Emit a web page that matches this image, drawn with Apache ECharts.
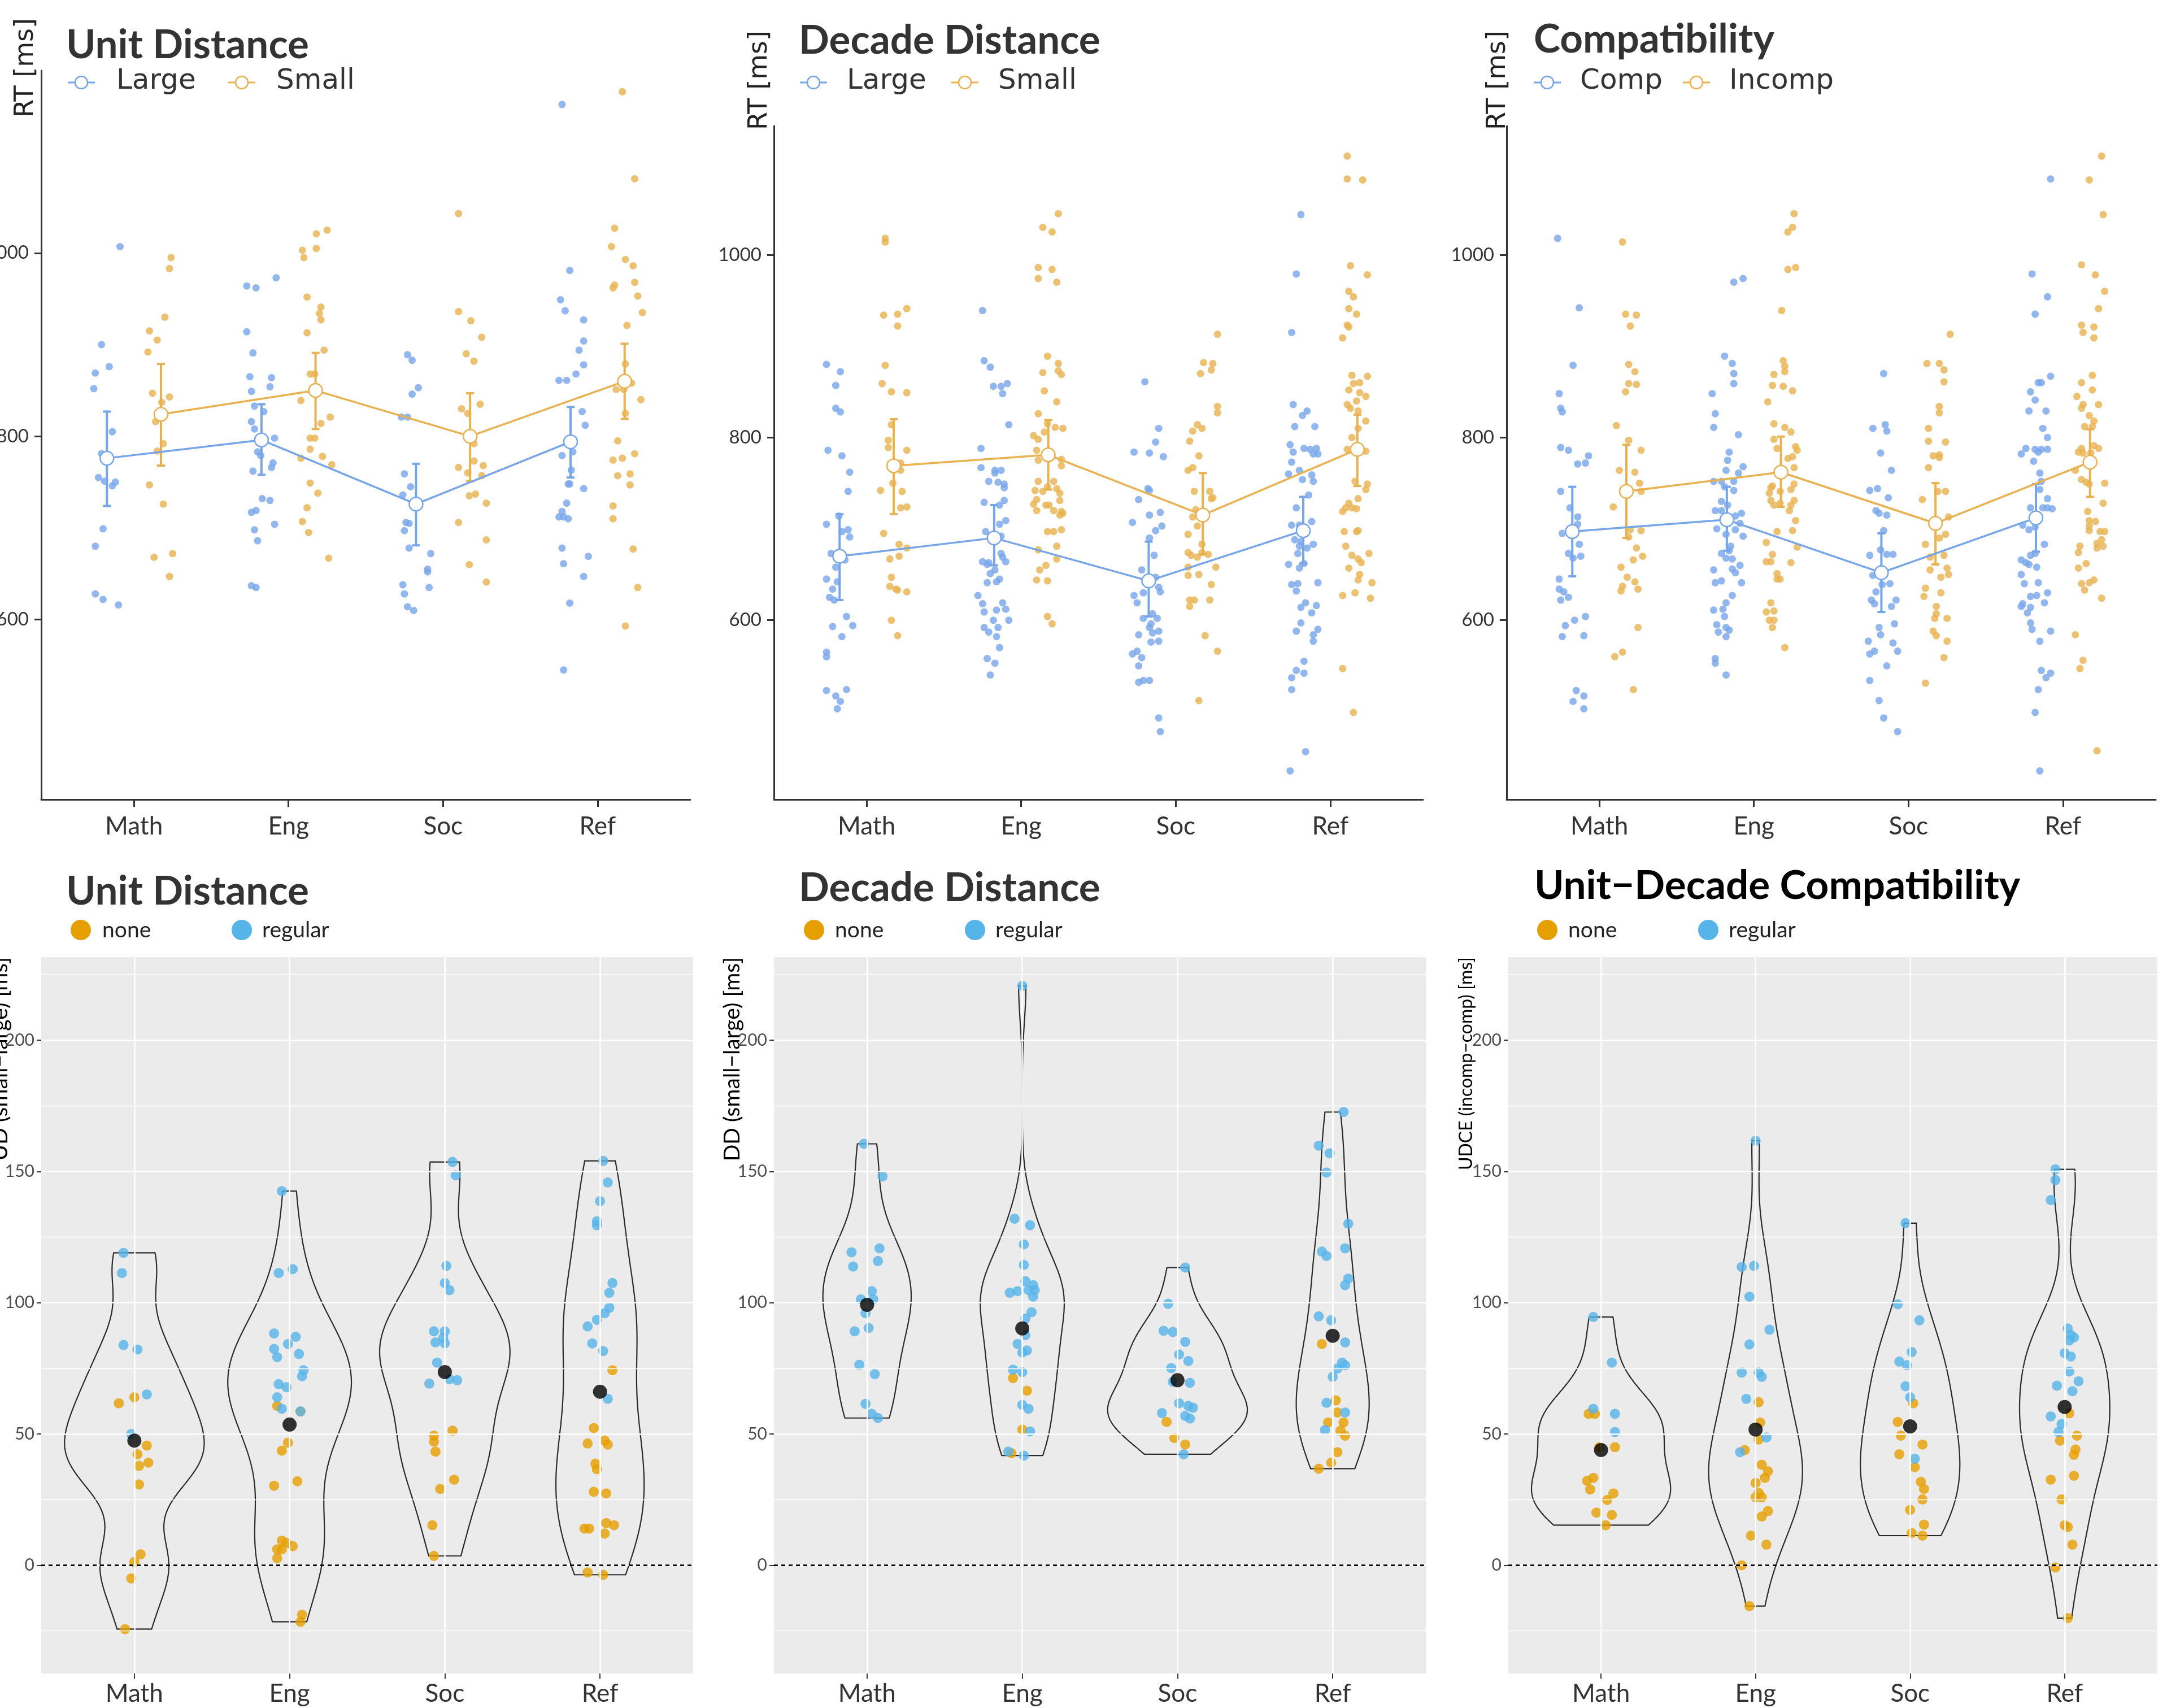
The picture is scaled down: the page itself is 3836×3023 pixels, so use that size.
<!DOCTYPE html>
<html><head><meta charset="utf-8">
<script src="https://cdn.jsdelivr.net/npm/echarts@6/dist/echarts.min.js"></script>
<style>html,body{margin:0;padding:0;background:#fff}#c{width:3836px;height:3023px}</style>
</head><body><div id="c"></div>
<script>
const categories = ['Math','Eng','Soc','Ref'];

// ---------- Top row: individual RTs, [jitter offset in category units, RT ms] ----------
// Unit Distance
const UD_large_Math = [[-0.09,1007],[-0.21,900],[-0.16,876],[-0.25,869],[-0.26,852],[-0.14,805],[-0.21,781],[-0.23,755],[-0.19,751],[-0.12,750],[-0.14,746],[-0.20,699],[-0.25,680],[-0.25,628],[-0.20,622],[-0.10,616]];
const UD_large_Eng = [[-0.08,973],[-0.27,964],[-0.21,962],[-0.27,914],[-0.23,891],[-0.25,865],[-0.11,864],[-0.12,854],[-0.24,849],[-0.22,833],[-0.16,827],[-0.24,816],[-0.22,808],[-0.09,798],[-0.20,783],[-0.18,779],[-0.10,771],[-0.11,766],[-0.23,762],[-0.17,732],[-0.12,730],[-0.24,717],[-0.21,719],[-0.09,704],[-0.22,698],[-0.20,686],[-0.24,637],[-0.21,635]];
const UD_large_Soc = [[-0.23,889],[-0.20,883],[-0.16,853],[-0.20,846],[-0.27,821],[-0.23,821],[-0.25,759],[-0.21,745],[-0.26,736],[-0.24,706],[-0.22,705],[-0.25,697],[-0.22,678],[-0.08,672],[-0.10,655],[-0.10,652],[-0.26,638],[-0.09,635],[-0.25,628],[-0.23,614],[-0.19,610]];
const UD_large_Ref = [[-0.23,1162],[-0.18,981],[-0.24,949],[-0.21,937],[-0.09,927],[-0.09,904],[-0.12,894],[-0.09,878],[-0.14,868],[-0.25,861],[-0.20,861],[-0.10,827],[-0.08,812],[-0.23,779],[-0.16,783],[-0.17,763],[-0.19,748],[-0.18,748],[-0.09,743],[-0.20,727],[-0.23,718],[-0.25,712],[-0.22,712],[-0.19,710],[-0.23,678],[-0.22,661],[-0.06,669],[-0.09,647],[-0.18,618],[-0.22,545]];
const UD_small_Math = [[0.24,995],[0.23,983],[0.20,930],[0.10,915],[0.15,905],[0.09,892],[0.12,847],[0.18,837],[0.23,843],[0.14,816],[0.15,784],[0.19,792],[0.10,747],[0.19,726],[0.13,668],[0.25,672],[0.23,647]];
const UD_small_Eng = [[0.25,1025],[0.18,1021],[0.18,1005],[0.09,1003],[0.10,995],[0.12,952],[0.21,941],[0.20,934],[0.21,927],[0.12,913],[0.23,894],[0.14,868],[0.17,868],[0.08,839],[0.27,821],[0.21,814],[0.14,798],[0.17,798],[0.14,786],[0.22,778],[0.08,776],[0.28,769],[0.14,749],[0.19,738],[0.12,722],[0.09,707],[0.13,695],[0.26,667]];
const UD_small_Soc = [[0.10,1043],[0.10,936],[0.18,926],[0.25,908],[0.15,890],[0.20,882],[0.24,835],[0.12,830],[0.16,825],[0.20,792],[0.10,766],[0.20,773],[0.26,768],[0.16,760],[0.25,757],[0.17,735],[0.21,737],[0.28,727],[0.10,706],[0.28,687],[0.17,660],[0.28,641]];
const UD_small_Ref = [[0.16,1176],[0.24,1081],[0.11,1027],[0.09,1007],[0.18,993],[0.23,986],[0.11,965],[0.10,962],[0.24,968],[0.26,953],[0.29,935],[0.19,921],[0.18,879],[0.12,851],[0.17,851],[0.22,858],[0.28,840],[0.18,825],[0.13,795],[0.24,781],[0.16,776],[0.10,774],[0.21,759],[0.13,757],[0.21,747],[0.10,724],[0.10,710],[0.23,677],[0.26,635],[0.18,593]];
const UD_large_mean = [776,796,726,794], UD_large_lo = [724,758,681,755], UD_large_hi = [827,835,770,832];
const UD_small_mean = [824,850,800,860], UD_small_lo = [768,808,751,819], UD_small_hi = [879,891,847,901];

// Decade Distance
const DD_large_Math = [[-0.26,880],[-0.17,872],[-0.20,857],[-0.20,832],[-0.17,828],[-0.25,786],[-0.16,780],[-0.11,762],[-0.12,741],[-0.26,705],[-0.18,714],[-0.16,697],[-0.12,699],[-0.11,691],[-0.23,673],[-0.14,666],[-0.20,658],[-0.26,645],[-0.19,642],[-0.22,634],[-0.24,625],[-0.21,622],[-0.13,604],[-0.09,594],[-0.22,593],[-0.16,582],[-0.26,565],[-0.26,560],[-0.26,523],[-0.20,517],[-0.17,511],[-0.13,524],[-0.19,503]];
const DD_large_Eng = [[-0.25,939],[-0.24,884],[-0.20,877],[-0.18,856],[-0.13,856],[-0.09,859],[-0.12,848],[-0.08,814],[-0.26,788],[-0.26,767],[-0.17,764],[-0.13,764],[-0.17,761],[-0.21,752],[-0.15,751],[-0.11,749],[-0.11,745],[-0.24,729],[-0.11,731],[-0.14,726],[-0.10,709],[-0.14,705],[-0.23,697],[-0.13,692],[-0.13,673],[-0.12,669],[-0.10,664],[-0.25,664],[-0.22,661],[-0.21,663],[-0.20,651],[-0.17,655],[-0.22,641],[-0.14,645],[-0.16,642],[-0.28,627],[-0.25,618],[-0.24,609],[-0.16,611],[-0.12,619],[-0.10,612],[-0.08,600],[-0.18,600],[-0.24,592],[-0.21,587],[-0.15,592],[-0.16,582],[-0.14,570],[-0.22,558],[-0.17,553],[-0.20,540]];
const DD_large_Soc = [[-0.20,861],[-0.11,810],[-0.13,795],[-0.27,784],[-0.17,783],[-0.08,779],[-0.18,744],[-0.17,742],[-0.24,732],[-0.28,707],[-0.17,715],[-0.10,718],[-0.09,703],[-0.13,698],[-0.17,690],[-0.14,671],[-0.22,655],[-0.13,647],[-0.17,643],[-0.27,627],[-0.21,630],[-0.25,619],[-0.11,636],[-0.10,631],[-0.21,602],[-0.15,607],[-0.12,602],[-0.17,592],[-0.16,596],[-0.11,588],[-0.24,584],[-0.15,586],[-0.16,576],[-0.11,577],[-0.28,563],[-0.25,566],[-0.22,559],[-0.24,550],[-0.24,532],[-0.21,534],[-0.17,534],[-0.11,493],[-0.10,478]];
const DD_large_Ref = [[-0.19,1044],[-0.22,979],[-0.25,915],[-0.24,836],[-0.18,824],[-0.15,829],[-0.10,812],[-0.23,812],[-0.26,792],[-0.24,784],[-0.17,788],[-0.13,787],[-0.09,788],[-0.11,782],[-0.08,782],[-0.25,773],[-0.27,760],[-0.20,764],[-0.12,759],[-0.18,754],[-0.11,752],[-0.14,737],[-0.22,723],[-0.25,704],[-0.20,704],[-0.12,708],[-0.23,688],[-0.19,686],[-0.20,681],[-0.15,679],[-0.11,683],[-0.21,673],[-0.27,661],[-0.20,657],[-0.17,662],[-0.25,639],[-0.21,640],[-0.22,632],[-0.08,641],[-0.19,614],[-0.16,619],[-0.09,616],[-0.12,608],[-0.19,597],[-0.22,588],[-0.08,590],[-0.11,584],[-0.11,577],[-0.17,555],[-0.22,545],[-0.17,542],[-0.25,537],[-0.25,524],[-0.16,456],[-0.26,435]];
const DD_small_Math = [[0.12,1018],[0.12,1014],[0.11,934],[0.20,935],[0.26,941],[0.20,922],[0.12,879],[0.10,859],[0.16,850],[0.26,849],[0.16,814],[0.14,797],[0.14,789],[0.26,786],[0.22,772],[0.22,764],[0.17,750],[0.09,742],[0.23,741],[0.22,723],[0.26,724],[0.11,695],[0.21,683],[0.26,679],[0.15,667],[0.21,670],[0.16,647],[0.15,637],[0.19,634],[0.20,633],[0.26,631],[0.16,600],[0.20,583]];
const DD_small_Eng = [[0.24,1045],[0.14,1030],[0.20,1025],[0.11,986],[0.20,984],[0.11,974],[0.23,970],[0.17,889],[0.24,881],[0.14,871],[0.24,873],[0.26,869],[0.15,851],[0.23,839],[0.11,826],[0.17,815],[0.15,806],[0.22,811],[0.27,810],[0.08,802],[0.11,798],[0.10,786],[0.11,775],[0.26,776],[0.26,769],[0.11,752],[0.21,752],[0.09,742],[0.14,741],[0.17,746],[0.23,744],[0.25,739],[0.08,727],[0.10,732],[0.16,726],[0.18,726],[0.10,720],[0.21,720],[0.25,731],[0.26,719],[0.25,715],[0.27,717],[0.17,697],[0.21,697],[0.26,699],[0.23,681],[0.11,677],[0.23,667],[0.16,660],[0.12,655],[0.10,644],[0.17,643],[0.17,604],[0.20,596]];
const DD_small_Soc = [[0.27,913],[0.18,882],[0.24,881],[0.16,870],[0.23,874],[0.27,834],[0.27,827],[0.14,814],[0.17,810],[0.11,807],[0.09,796],[0.15,780],[0.08,764],[0.11,767],[0.12,741],[0.22,741],[0.24,734],[0.23,733],[0.13,721],[0.11,713],[0.14,703],[0.08,694],[0.17,683],[0.08,674],[0.10,671],[0.14,669],[0.17,674],[0.21,672],[0.08,658],[0.26,658],[0.15,650],[0.08,649],[0.23,639],[0.09,622],[0.12,622],[0.22,622],[0.09,615],[0.19,583],[0.27,566],[0.15,512]];
const DD_small_Ref = [[0.11,1108],[0.11,1083],[0.21,1082],[0.13,988],[0.24,978],[0.12,960],[0.15,954],[0.12,941],[0.17,935],[0.11,923],[0.12,921],[0.08,909],[0.14,868],[0.24,867],[0.15,859],[0.19,860],[0.12,852],[0.19,849],[0.23,845],[0.17,840],[0.11,836],[0.13,832],[0.18,829],[0.23,818],[0.18,810],[0.14,800],[0.11,787],[0.23,785],[0.16,752],[0.24,749],[0.23,743],[0.18,733],[0.12,728],[0.08,719],[0.10,723],[0.14,723],[0.17,722],[0.09,697],[0.17,697],[0.18,698],[0.10,681],[0.14,671],[0.18,667],[0.20,663],[0.25,673],[0.12,657],[0.19,650],[0.18,644],[0.27,641],[0.08,627],[0.16,630],[0.26,624],[0.08,547],[0.15,499]];
const DD_large_mean = [670,690,643,698], DD_large_lo = [622,660,604,662], DD_large_hi = [716,726,686,735];
const DD_small_mean = [769,781,715,787], DD_small_lo = [716,743,672,747], DD_small_hi = [820,819,761,825];

// Compatibility
const CP_comp_Math = [[-0.27,1018],[-0.13,942],[-0.17,879],[-0.26,848],[-0.25,832],[-0.24,828],[-0.25,789],[-0.20,786],[-0.14,771],[-0.09,772],[-0.07,780],[-0.25,741],[-0.19,723],[-0.14,713],[-0.14,705],[-0.24,695],[-0.13,683],[-0.20,673],[-0.17,668],[-0.12,670],[-0.26,645],[-0.26,634],[-0.23,631],[-0.25,622],[-0.20,625],[-0.16,600],[-0.09,604],[-0.22,594],[-0.24,582],[-0.10,583],[-0.15,523],[-0.10,517],[-0.17,511],[-0.10,503]];
const CP_comp_Eng = [[-0.13,970],[-0.07,974],[-0.19,889],[-0.14,881],[-0.13,870],[-0.13,859],[-0.27,848],[-0.25,826],[-0.26,811],[-0.10,803],[-0.16,784],[-0.17,775],[-0.18,764],[-0.07,768],[-0.10,761],[-0.26,752],[-0.21,752],[-0.13,752],[-0.19,746],[-0.13,742],[-0.21,730],[-0.17,726],[-0.25,720],[-0.21,720],[-0.12,714],[-0.08,717],[-0.09,706],[-0.24,700],[-0.12,699],[-0.18,694],[-0.07,692],[-0.15,681],[-0.16,676],[-0.21,673],[-0.18,668],[-0.14,667],[-0.09,660],[-0.26,655],[-0.14,656],[-0.12,652],[-0.25,641],[-0.21,643],[-0.08,641],[-0.14,627],[-0.18,619],[-0.26,611],[-0.20,612],[-0.19,604],[-0.24,595],[-0.23,587],[-0.18,592],[-0.16,589],[-0.18,582],[-0.25,558],[-0.25,553],[-0.18,540]];
const CP_comp_Soc = [[-0.16,870],[-0.23,810],[-0.15,814],[-0.14,807],[-0.18,783],[-0.11,764],[-0.25,742],[-0.20,744],[-0.13,734],[-0.21,720],[-0.19,717],[-0.14,715],[-0.16,698],[-0.25,671],[-0.18,677],[-0.14,672],[-0.10,672],[-0.17,652],[-0.23,649],[-0.17,639],[-0.12,640],[-0.21,631],[-0.24,622],[-0.22,618],[-0.08,622],[-0.11,615],[-0.09,596],[-0.19,592],[-0.18,584],[-0.26,577],[-0.10,575],[-0.25,563],[-0.22,566],[-0.07,566],[-0.14,550],[-0.25,534],[-0.19,512],[-0.16,493],[-0.07,478]];
const CP_comp_Ref = [[-0.08,1083],[-0.20,979],[-0.10,954],[-0.18,935],[-0.08,867],[-0.16,860],[-0.14,860],[-0.21,850],[-0.18,841],[-0.22,829],[-0.11,829],[-0.13,810],[-0.10,800],[-0.24,788],[-0.27,782],[-0.18,787],[-0.16,784],[-0.14,787],[-0.10,787],[-0.19,774],[-0.15,761],[-0.14,752],[-0.15,743],[-0.10,733],[-0.21,723],[-0.13,723],[-0.10,723],[-0.07,722],[-0.26,704],[-0.22,699],[-0.18,702],[-0.12,683],[-0.21,671],[-0.18,673],[-0.27,666],[-0.24,663],[-0.22,661],[-0.17,658],[-0.27,650],[-0.25,640],[-0.16,641],[-0.10,630],[-0.21,626],[-0.17,627],[-0.12,619],[-0.26,618],[-0.27,615],[-0.21,614],[-0.23,608],[-0.21,597],[-0.20,590],[-0.08,588],[-0.15,577],[-0.14,545],[-0.11,537],[-0.08,542],[-0.16,524],[-0.18,499],[-0.15,435]];
const CP_incomp_Math = [[0.15,1014],[0.17,935],[0.24,934],[0.20,922],[0.19,880],[0.23,872],[0.19,859],[0.24,858],[0.17,850],[0.11,813],[0.19,797],[0.27,786],[0.13,764],[0.23,762],[0.26,750],[0.27,741],[0.09,724],[0.20,699],[0.27,698],[0.19,691],[0.24,679],[0.28,670],[0.22,666],[0.14,658],[0.18,647],[0.23,642],[0.15,637],[0.14,632],[0.25,634],[0.25,592],[0.10,560],[0.15,565],[0.22,524]];
const CP_incomp_Eng = [[0.26,1045],[0.25,1030],[0.22,1025],[0.22,984],[0.27,986],[0.18,939],[0.19,884],[0.20,878],[0.20,872],[0.13,869],[0.12,857],[0.19,856],[0.25,851],[0.09,839],[0.13,815],[0.20,811],[0.24,806],[0.13,798],[0.27,790],[0.15,788],[0.28,786],[0.22,777],[0.25,779],[0.26,767],[0.26,749],[0.11,745],[0.12,747],[0.24,743],[0.10,739],[0.17,741],[0.11,731],[0.13,726],[0.17,728],[0.26,731],[0.24,726],[0.23,720],[0.27,709],[0.15,697],[0.25,698],[0.08,685],[0.28,680],[0.12,672],[0.08,664],[0.11,664],[0.24,663],[0.15,651],[0.15,645],[0.17,645],[0.11,619],[0.08,609],[0.13,610],[0.10,600],[0.13,600],[0.12,592],[0.20,570]];
const CP_incomp_Soc = [[0.27,913],[0.12,881],[0.20,881],[0.23,874],[0.23,861],[0.20,834],[0.20,827],[0.13,810],[0.13,796],[0.24,795],[0.16,780],[0.20,781],[0.20,778],[0.13,767],[0.09,732],[0.19,741],[0.24,741],[0.26,713],[0.11,683],[0.20,690],[0.24,694],[0.14,669],[0.23,671],[0.25,657],[0.26,650],[0.14,655],[0.21,647],[0.11,635],[0.10,626],[0.21,630],[0.18,615],[0.18,607],[0.17,602],[0.25,602],[0.16,588],[0.18,583],[0.25,577],[0.23,559],[0.11,531]];
const CP_incomp_Ref = [[0.25,1108],[0.17,1082],[0.26,1044],[0.12,989],[0.21,978],[0.27,960],[0.23,941],[0.12,923],[0.20,921],[0.13,915],[0.20,909],[0.19,868],[0.12,860],[0.19,852],[0.09,845],[0.13,836],[0.12,832],[0.23,836],[0.17,824],[0.20,818],[0.14,812],[0.19,812],[0.12,788],[0.20,791],[0.10,784],[0.13,783],[0.18,783],[0.23,788],[0.08,764],[0.12,754],[0.15,751],[0.17,749],[0.27,750],[0.26,728],[0.16,719],[0.17,709],[0.21,708],[0.17,703],[0.17,698],[0.24,697],[0.27,697],[0.25,688],[0.22,684],[0.22,679],[0.26,681],[0.11,681],[0.10,674],[0.15,662],[0.10,657],[0.12,640],[0.17,641],[0.20,644],[0.14,633],[0.25,624],[0.08,584],[0.13,556],[0.11,547],[0.22,457]];
const CP_comp_mean = [697,710,652,712], CP_comp_lo = [648,676,609,675], CP_comp_hi = [746,746,695,749];
const CP_incomp_mean = [741,762,706,773], CP_incomp_lo = [690,724,661,735], CP_incomp_hi = [792,801,750,809];

// ---------- Bottom row: effects per participant, [jitter offset, effect ms] ----------
const UD_none_Math = [[-0.10,61.7],[0,64.0],[0.08,45.6],[0.02,42.3],[0.03,37.9],[0.09,39.1],[0.03,30.8],[0.04,4.2],[0,1.3],[-0.02,-5.0],[-0.06,-24.3]];
const UD_reg_Math = [[-0.07,119.0],[-0.08,111.3],[-0.07,83.9],[0.02,82.2],[0.08,65.1],[-0.02,50.0]];
const UD_none_Eng = [[-0.08,60.7],[0.07,58.6],[-0.01,46.7],[-0.05,43.7],[-0.10,30.3],[0.05,32.0],[-0.05,9.4],[-0.02,8.6],[0.02,7.3],[-0.08,6.1],[-0.05,6.1],[-0.08,2.7],[0.08,-18.8],[0.07,-21.5]];
const UD_reg_Eng = [[-0.05,142.5],[-0.07,111.3],[0.02,112.8],[-0.10,88.3],[0.04,87.0],[-0.10,82.4],[-0.01,84.3],[-0.08,79.3],[0.06,80.5],[0.09,74.3],[0.08,72.0],[-0.07,69.0],[-0.02,67.8],[-0.08,64.0],[-0.05,59.6],[0.07,58.6]];
const UD_none_Soc = [[-0.07,49.4],[-0.07,47.1],[-0.06,43.3],[0.05,51.3],[0.06,32.6],[-0.03,29.1],[-0.08,15.3],[-0.07,3.6]];
const UD_reg_Soc = [[0.05,153.6],[0.07,148.5],[0.01,114.0],[0,107.5],[0.03,104.8],[-0.07,89.1],[0,89.1],[-0.06,84.9],[0,84.5],[-0.01,86.6],[-0.05,77.2],[-0.10,69.2],[0.03,70.9],[0.08,70.5]];
const UD_none_Ref = [[0.08,74.3],[-0.04,52.3],[-0.08,46.4],[0.03,47.5],[0.05,46.0],[-0.03,38.7],[-0.02,36.6],[-0.04,28.0],[0.04,27.4],[0.04,16.1],[0.09,15.3],[-0.10,14.0],[-0.07,14.0],[0.03,12.1],[-0.08,-2.7],[0.02,-3.6]];
const UD_reg_Ref = [[0.02,154.0],[0.05,145.8],[0,138.7],[-0.02,131.0],[-0.02,129.5],[0.08,107.5],[0.06,103.8],[0.06,98.1],[0.03,96.0],[-0.02,93.5],[-0.08,91.0],[-0.05,84.5],[0.02,81.6],[0.05,63.4]];
const UD_mean = [47.5,53.6,73.6,66.1];

const DD_none_Math = [];
const DD_reg_Math = [[-0.02,160.5],[0.10,148.1],[-0.10,119.2],[0.08,120.7],[-0.09,113.8],[0.07,115.9],[0.03,104.4],[-0.04,101.3],[0.04,101.3],[-0.01,96.0],[-0.08,89.1],[0.01,90.4],[-0.05,76.4],[0.05,72.8],[-0.01,61.5],[0.03,57.7],[0.07,56.1]];
const DD_none_Eng = [[-0.06,71.3],[0.03,66.5],[0,51.7],[-0.07,42.7]];
const DD_reg_Eng = [[0,220.7],[-0.05,132.0],[0.05,129.5],[0.01,122.2],[0.01,114.4],[-0.08,103.8],[-0.03,104.4],[0.02,108.2],[0.07,106.7],[0.08,104.8],[0.04,104.8],[0.07,102.3],[0.06,96.4],[0.02,93.9],[0.02,87.7],[-0.03,84.3],[0,81.0],[0.03,81.8],[-0.06,74.5],[0,73.6],[0,61.1],[0.04,59.6],[0.05,51.0],[-0.09,43.3],[0.01,41.8]];
const DD_none_Soc = [[-0.07,54.6],[-0.02,48.5],[0.05,46.0]];
const DD_reg_Soc = [[0.05,113.4],[-0.06,99.6],[-0.09,89.3],[-0.03,88.9],[0.05,85.1],[0.01,80.3],[0.07,77.8],[-0.04,75.1],[-0.03,69.9],[0.08,69.5],[-0.10,58.0],[0.01,61.7],[0.07,60.7],[0.10,60.0],[0.05,56.9],[0.08,55.9],[0.04,42.3]];
const DD_none_Ref = [[-0.07,84.3],[0.02,62.8],[0.03,58.2],[-0.03,54.4],[0.07,54.4],[0.05,51.3],[0.08,49.4],[0.03,43.1],[-0.01,39.1],[-0.09,36.8]];
const DD_reg_Ref = [[0.07,172.6],[-0.09,159.8],[-0.02,156.9],[-0.04,149.6],[0.10,130.1],[-0.07,119.5],[-0.04,117.8],[0.08,120.7],[0.10,109.2],[0.08,106.7],[-0.09,94.8],[-0.01,93.3],[0.08,84.9],[0.06,77.2],[0.08,76.2],[0.03,74.9],[0,71.8],[-0.04,61.9],[0.08,58.2],[-0.05,51.5]];
const DD_mean = [99.2,90.2,70.5,87.4];

const UDCE_none_Math = [[-0.08,57.7],[-0.04,57.7],[-0.01,45.0],[0.09,45.0],[-0.09,32.2],[-0.05,33.3],[-0.07,28.9],[0.08,27.4],[0.04,24.9],[-0.03,20.1],[0.07,19.2],[0.03,15.3]];
const UDCE_reg_Math = [[-0.05,94.6],[0.07,77.2],[-0.05,59.6],[0.09,57.7],[0.09,50.8]];
const UDCE_none_Eng = [[0.02,62.1],[0.03,54.4],[0.02,47.9],[-0.07,43.9],[0.04,38.3],[0.08,35.8],[0.06,33.3],[0,31.4],[0.02,27.6],[0,25.9],[0.04,25.9],[0.08,20.7],[0.04,18.6],[-0.03,11.3],[0.07,7.9],[-0.09,0],[-0.04,-15.5]];
const UDCE_reg_Eng = [[0,161.7],[-0.09,113.6],[-0.01,114.0],[-0.04,102.3],[0.09,89.7],[-0.04,84.1],[-0.09,73.4],[0.02,73.4],[0.04,71.8],[-0.06,63.4],[0.07,48.7],[-0.10,43.1]];
const UDCE_none_Soc = [[0.02,61.7],[-0.08,54.6],[-0.06,49.4],[0.08,46.0],[-0.07,42.3],[0.03,37.4],[0.07,31.8],[0.09,29.1],[0.08,25.1],[0,21.1],[0.09,15.5],[0.01,12.3],[0.08,11.3]];
const UDCE_reg_Soc = [[-0.03,130.3],[-0.08,99.4],[0.06,93.3],[0.01,81.2],[-0.07,77.6],[-0.02,76.2],[-0.03,68.2],[0,64.0],[0.03,40.6]];
const UDCE_none_Ref = [[0.03,57.9],[-0.03,47.5],[0.08,49.4],[0.07,44.1],[0.06,42.1],[0.06,34.1],[-0.09,32.6],[-0.02,25.1],[0,15.3],[0.02,14.6],[0.05,7.9],[-0.06,-0.8],[0.02,-20.1]];
const UDCE_reg_Ref = [[-0.06,150.8],[-0.06,146.7],[-0.09,139.1],[0.02,90.2],[0.04,87.7],[0.06,86.8],[0.03,85.6],[0,80.8],[0.04,79.5],[0.03,73.8],[0.09,70.1],[-0.05,68.4],[0.05,66.3],[-0.09,56.7],[-0.02,53.8],[-0.04,50.8]];
const UDCE_mean = [43.9,51.7,52.9,60.3];

// tick values
const topTicks = [600,800,1000];
const bottomTicks = [0,50,100,150,200];
const bottomMinor = [-25,25,75,125,175,225];

// ---------- styling ----------
const BLUE = '#77A5EA', ORANGE = '#E9B14F';
const NONE_C = '#E69F00', REG_C = '#56B4E9';
const DODGE = 0.175;

const gbase = {outerBoundsMode:'none', containLabel:false};
const grids = [
  Object.assign({left:73, top:125, width:1149, height:1290}, gbase),
  Object.assign({left:1370, top:223, width:1149, height:1192}, gbase),
  Object.assign({left:2667, top:223, width:1149, height:1192}, gbase),
  Object.assign({left:73, top:1694, width:1154, height:1268, show:true, backgroundColor:'#EBEBEB', borderWidth:0}, gbase),
  Object.assign({left:1370, top:1694, width:1154, height:1268, show:true, backgroundColor:'#EBEBEB', borderWidth:0}, gbase),
  Object.assign({left:2670, top:1694, width:1149, height:1268, show:true, backgroundColor:'#EBEBEB', borderWidth:0}, gbase)
];

const xAxes = [], yAxes = [], series = [];
const catFmt = v => categories[Math.round(v)-1] || '';
const numFmt = v => String(v);

for (let g=0; g<6; g++){
  const top = g<3;
  xAxes.push({type:'value', gridIndex:g, min:0.4, max:4.6,
    axisLine:{show:top, onZero:false, lineStyle:{color:'#333', width:3}},
    axisTick:{show:true, customValues:[1,2,3,4], length: top?13:9, lineStyle:{color:'#333', width: top?3:2}},
    axisLabel:{customValues:[1,2,3,4], formatter:catFmt, fontSize:44, fontFamily:'Lato', color:'#333', margin: top?26:14},
    splitLine:{show:false}});
  if (top){
    yAxes.push({type:'value', gridIndex:g, min:403.7, max: g===0?1199:1141,
      axisLine:{show:true, onZero:false, lineStyle:{color:'#333', width:3}},
      axisTick:{show:true, customValues:topTicks, length:12, lineStyle:{color:'#333', width:3}},
      axisLabel:{customValues:topTicks, formatter:numFmt, fontSize:33, fontFamily:'Lato', color:'#333', margin:22},
      splitLine:{show:false}});
  } else {
    yAxes.push({type:'value', gridIndex:g, min:-41.2, max:231.6,
      axisLine:{show:false, onZero:false},
      axisTick:{show:true, customValues:bottomTicks, length:8, lineStyle:{color:'#333', width:2}},
      axisLabel:{customValues:bottomTicks, formatter:numFmt, fontSize:30, fontFamily:'Lato', color:'#4D4D4D', margin:12},
      splitLine:{show:false}});
  }
}

function pts(groups){
  const out = [];
  groups.forEach((grp, ci) => grp.forEach(p => out.push([ci+1+p[0], p[1]])));
  return out;
}

function errBarSeries(g, lo, hi, shift, color){
  return {type:'custom', xAxisIndex:g, yAxisIndex:g, z:4, silent:true,
    encode:{x:0, y:[1,2]},
    data: lo.map((v,i)=>[i+1+shift, v, hi[i]]),
    renderItem:(params, api)=>{
      const x = api.value(0);
      const a = api.coord([x, api.value(2)]), b = api.coord([x, api.value(1)]);
      const cap = 7;
      const st = {stroke:color, lineWidth:4};
      return {type:'group', children:[
        {type:'line', shape:{x1:a[0], y1:a[1], x2:b[0], y2:b[1]}, style:st},
        {type:'line', shape:{x1:a[0]-cap, y1:a[1], x2:a[0]+cap, y2:a[1]}, style:st},
        {type:'line', shape:{x1:b[0]-cap, y1:b[1], x2:b[0]+cap, y2:b[1]}, style:st}
      ]};
    }};
}

function addTop(g, A, B, mA, loA, hiA, mB, loB, hiB){
  series.push({type:'scatter', xAxisIndex:g, yAxisIndex:g, z:2, silent:true, symbolSize:13,
    itemStyle:{color:BLUE}, data:pts(A)});
  series.push({type:'scatter', xAxisIndex:g, yAxisIndex:g, z:2, silent:true, symbolSize:13,
    itemStyle:{color:ORANGE}, data:pts(B)});
  series.push(errBarSeries(g, loA, hiA, -DODGE, BLUE));
  series.push(errBarSeries(g, loB, hiB, DODGE, ORANGE));
  [[mA, -DODGE, BLUE],[mB, DODGE, ORANGE]].forEach(([m, s, c]) => {
    series.push({type:'line', xAxisIndex:g, yAxisIndex:g, z:5, silent:true,
      data: m.map((v,i)=>[i+1+s, v]), symbol:'circle', symbolSize:24, showSymbol:true,
      itemStyle:{color:'#fff', borderColor:c, borderWidth:2.5},
      lineStyle:{color:c, width:3.5}});
  });
}

addTop(0, [UD_large_Math,UD_large_Eng,UD_large_Soc,UD_large_Ref], [UD_small_Math,UD_small_Eng,UD_small_Soc,UD_small_Ref],
  UD_large_mean, UD_large_lo, UD_large_hi, UD_small_mean, UD_small_lo, UD_small_hi);
addTop(1, [DD_large_Math,DD_large_Eng,DD_large_Soc,DD_large_Ref], [DD_small_Math,DD_small_Eng,DD_small_Soc,DD_small_Ref],
  DD_large_mean, DD_large_lo, DD_large_hi, DD_small_mean, DD_small_lo, DD_small_hi);
addTop(2, [CP_comp_Math,CP_comp_Eng,CP_comp_Soc,CP_comp_Ref], [CP_incomp_Math,CP_incomp_Eng,CP_incomp_Soc,CP_incomp_Ref],
  CP_comp_mean, CP_comp_lo, CP_comp_hi, CP_incomp_mean, CP_incomp_lo, CP_incomp_hi);

// gaussian KDE (bw.nrd0), evaluated over the data range (trimmed violin)
function kde(vals){
  const s = vals.slice().sort((a,b)=>a-b), n = s.length;
  const mean = s.reduce((a,b)=>a+b,0)/n;
  const sd = Math.sqrt(s.reduce((a,b)=>a+(b-mean)*(b-mean),0)/(n-1));
  const q = p => { const h=(n-1)*p, l=Math.floor(h); return s[l] + (h-l)*(s[Math.min(l+1,n-1)]-s[l]); };
  let lo = Math.min(sd, (q(0.75)-q(0.25))/1.34); if (!(lo>0)) lo = sd;
  const bw = 0.9*lo*Math.pow(n,-0.2);
  const out = [], N = 256, c = 1/(n*bw*Math.sqrt(2*Math.PI));
  for (let i=0;i<N;i++){
    const y = s[0] + (s[n-1]-s[0])*i/(N-1);
    let d = 0; for (const v of s) { const z=(y-v)/bw; d += Math.exp(-0.5*z*z); }
    out.push([y, d*c]);
  }
  return out;
}

function addBottom(g, NONE, REG, MEAN){
  const gridLines = [];
  bottomMinor.forEach(v => gridLines.push({yAxis:v, lineStyle:{color:'#fff', width:1.3, type:'solid'}}));
  bottomTicks.forEach(v => gridLines.push({yAxis:v, lineStyle:{color:'#fff', width:2.6, type:'solid'}}));
  [1,2,3,4].forEach(v => gridLines.push({xAxis:v, lineStyle:{color:'#fff', width:2.6, type:'solid'}}));
  series.push({type:'line', xAxisIndex:g, yAxisIndex:g, z:1, silent:true, data:[[1,0]], symbol:'none',
    lineStyle:{opacity:0}, markLine:{silent:true, symbol:'none', label:{show:false}, animation:false, data:gridLines}});
  // violins
  const dens = NONE.map((grp,i)=>kde(grp.map(p=>p[1]).concat(REG[i].map(p=>p[1]))));
  let maxD = 0; dens.forEach(d=>d.forEach(p=>{ if (p[1]>maxD) maxD=p[1]; }));
  const outlines = dens.map((d,i)=>{
    const c = i+1, right = d.map(p=>[c + 0.45*p[1]/maxD, p[0]]);
    const left = d.slice().reverse().map(p=>[c - 0.45*p[1]/maxD, p[0]]);
    return right.concat(left);
  });
  series.push({type:'custom', xAxisIndex:g, yAxisIndex:g, z:2, silent:true,
    data:[[1,0],[2,0],[3,0],[4,0]], encode:{x:0,y:1},
    renderItem:(params, api)=>({type:'polygon', shape:{points: outlines[params.dataIndex].map(p=>api.coord(p))},
      style:{fill:'none', stroke:'#2b2b2b', lineWidth:2.2}})});
  // zero reference
  series.push({type:'line', xAxisIndex:g, yAxisIndex:g, z:3, silent:true, data:[[1,0]], symbol:'none',
    lineStyle:{opacity:0}, markLine:{silent:true, symbol:'none', label:{show:false}, animation:false,
      data:[{yAxis:0, lineStyle:{color:'#000', width:3, type:[7,6]}}]}});
  series.push({type:'scatter', xAxisIndex:g, yAxisIndex:g, z:4, silent:true, symbolSize:18,
    itemStyle:{color:NONE_C}, data:pts(NONE)});
  series.push({type:'scatter', xAxisIndex:g, yAxisIndex:g, z:4, silent:true, symbolSize:18,
    itemStyle:{color:REG_C}, data:pts(REG)});
  series.push({type:'scatter', xAxisIndex:g, yAxisIndex:g, z:5, silent:true, symbolSize:25,
    itemStyle:{color:'#000'}, data: MEAN.map((v,i)=>[i+1, v])});
}

addBottom(3, [UD_none_Math,UD_none_Eng,UD_none_Soc,UD_none_Ref], [UD_reg_Math,UD_reg_Eng,UD_reg_Soc,UD_reg_Ref], UD_mean);
addBottom(4, [DD_none_Math,DD_none_Eng,DD_none_Soc,DD_none_Ref], [DD_reg_Math,DD_reg_Eng,DD_reg_Soc,DD_reg_Ref], DD_mean);
addBottom(5, [UDCE_none_Math,UDCE_none_Eng,UDCE_none_Soc,UDCE_none_Ref], [UDCE_reg_Math,UDCE_reg_Eng,UDCE_reg_Soc,UDCE_reg_Ref], UDCE_mean);

// ---------- titles, legends, axis titles ----------
const G = [];
function title(t, x, y, col){ G.push({type:'text', x, y, style:{text:t, fontFamily:'Lato', fontWeight:'bold', fontSize:71, fill:col||'#333', align:'left', verticalAlign:'middle'}}); }
title('Unit Distance', 117, 80); title('Decade Distance', 1414, 72); title('Compatibility', 2715, 70);
title('Unit Distance', 117, 1578); title('Decade Distance', 1414, 1572); title('Unit\u2212Decade Compatibility', 2716, 1568, '#000');

function lineKey(cx, cy, color, label, tx){
  G.push({type:'line', shape:{x1:cx-24, y1:cy, x2:cx+24, y2:cy}, style:{stroke:color, lineWidth:3}});
  G.push({type:'circle', shape:{cx, cy, r:11}, style:{fill:'#fff', stroke:color, lineWidth:2.5}});
  G.push({type:'text', x:tx, y:cy-2, style:{text:label, fontFamily:'DejaVu Sans', fontSize:50, fill:'#333', align:'left', verticalAlign:'middle'}});
}
lineKey(144, 146, BLUE, 'Large', 206); lineKey(428, 146, ORANGE, 'Small', 489);
lineKey(1440, 146, BLUE, 'Large', 1499); lineKey(1708, 146, ORANGE, 'Small', 1767);
lineKey(2739, 146, BLUE, 'Comp', 2797); lineKey(3003, 146, ORANGE, 'Incomp', 3061);

function dotKey(cx, cy, color, label, tx){
  G.push({type:'circle', shape:{cx, cy, r:18}, style:{fill:color}});
  G.push({type:'text', x:tx, y:cy, style:{text:label, fontFamily:'Lato', fontSize:39, fill:'#222', align:'left', verticalAlign:'middle'}});
}
[[143,181,428,464],[1441,1478,1726,1762],[2739,2776,3024,3060]].forEach(([a,b,c,d])=>{
  dotKey(a, 1646, NONE_C, 'none', b); dotKey(c, 1646, REG_C, 'regular', d);
});

function vtitle(t, x, y, align, font, size, col){
  G.push({type:'text', x, y, rotation:Math.PI/2, style:{text:t, fontFamily:font, fontSize:size, fill:col, align, verticalAlign:'middle'}});
}
vtitle('RT [ms]', 46, 208, 'left', 'DejaVu Sans', 46, '#222');
vtitle('RT [ms]', 1345, 230, 'left', 'DejaVu Sans', 46, '#222');
vtitle('RT [ms]', 2652, 230, 'left', 'DejaVu Sans', 46, '#222');
vtitle('UD (small\u2212large) [ms]', 0, 1694, 'right', 'Lato', 39, '#000');
vtitle('DD (small\u2212large) [ms]', 1296, 1694, 'right', 'Lato', 39, '#000');
vtitle('UDCE (incomp\u2212comp) [ms]', 2596, 1694, 'right', 'Lato', 32, '#000');

const chart = echarts.init(document.getElementById('c'), null, {renderer:'canvas'});
chart.setOption({animation:false, backgroundColor:'#fff', grid:grids, xAxis:xAxes, yAxis:yAxes, series, graphic:G});
</script></body></html>
